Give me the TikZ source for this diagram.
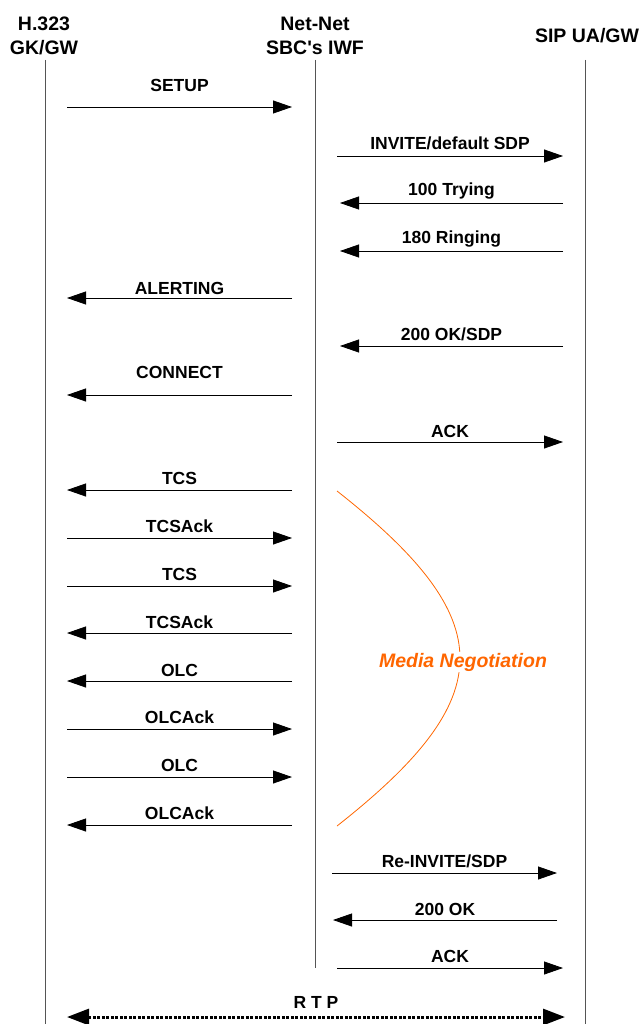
\documentclass[tikz,border=0pt]{standalone}
\usepackage{fontspec}
\setmainfont{Liberation Sans}
\usetikzlibrary{arrows.meta}
\definecolor{lifegray}{HTML}{555555}
\definecolor{mnorange}{HTML}{FF6600}
\tikzset{
  life/.style={draw=lifegray, line width=0.9pt},
  msg/.style={draw=black, line width=0.8pt, -{Triangle[length=19pt,width=13pt]}},
  lbl/.style={font=\bfseries\fontsize{17.5}{20}\selectfont, inner sep=0pt},
  hdr/.style={font=\bfseries\fontsize{19.5}{24}\selectfont, align=center, inner sep=0pt},
  rtp/.style={draw=black, line width=3pt, dash pattern=on 3pt off 1.5pt,
    {Triangle[length=22pt,width=16pt]}-{Triangle[length=22pt,width=16pt]}},
  mncurve/.style={draw=mnorange, line width=0.8pt},
  mntext/.style={font=\bfseries\itshape\fontsize{19.5}{23}\selectfont, text=mnorange, fill=white, inner sep=1pt}
}
\begin{document}
\begin{tikzpicture}[x=1pt,y=-1pt]
\useasboundingbox (0,0) rectangle (642,1024);
% headers
\node[hdr] (h1) at (44,35.5) {H.323\\GK/GW};
\node[hdr] (h2) at (315,35.5) {Net-Net\\SBC\textquotesingle s IWF};
\node[hdr] (h3) at (587,36) {SIP UA/GW};
% lifelines
\coordinate (l1t) at (45,60); \coordinate (l1b) at (45,1024);
\coordinate (l2t) at (315,60); \coordinate (l2b) at (315,968);
\coordinate (l3t) at (585,60); \coordinate (l3b) at (585,1024);
\draw[life] (l1t) -- (l1b);
\draw[life] (l2t) -- (l2b);
\draw[life] (l3t) -- (l3b);
% messages
\foreach \n/\y/\xa/\xb/\ly/\t in {
  1/107/67/292/85/{SETUP},
  2/156/337/563/143/{INVITE/default SDP},
  3/203/563/340/191/{100 Trying},
  4/251/563/340/239/{180 Ringing},
  5/298/292/67/288/{ALERTING},
  6/346/563/340/334/{200 OK/SDP},
  7/395/292/67/372/{CONNECT},
  8/442/337/563/431/{ACK},
  9/490/292/67/478/{TCS},
  10/538/67/292/526/{TCSAck},
  11/586/67/292/574/{TCS},
  12/633/292/67/622/{TCSAck},
  13/681/292/67/670/{OLC},
  14/729/67/292/717/{OLCAck},
  15/777/67/292/765/{OLC},
  16/825/292/67/813/{OLCAck},
  17/873/332/557/861/{Re-INVITE/SDP},
  18/920/557/333/909/{200 OK},
  19/968/337/563/956/{ACK}}{
  \coordinate (s\n) at (\xa,\y);
  \coordinate (e\n) at (\xb,\y);
  \draw[msg] (s\n) -- (e\n);
  \node[lbl] (t\n) at ({(\xa+\xb)/2},\ly) {\t};
}
% RTP
\coordinate (rtpl) at (67,1017);
\coordinate (rtpr) at (565,1017);
\draw[rtp] (rtpl) -- (rtpr);
\node[lbl] (rtplbl) at (316,1002) {R T P};
% media negotiation
\coordinate (mna) at (337,491);
\coordinate (mnc1) at (501,620);
\coordinate (mnc2) at (501,697);
\coordinate (mnb) at (337,826);
\draw[mncurve] (mna) .. controls (mnc1) and (mnc2) .. (mnb);
\node[mntext] (mnt) at (463,662) {Media Negotiation};
\end{tikzpicture}
\end{document}
